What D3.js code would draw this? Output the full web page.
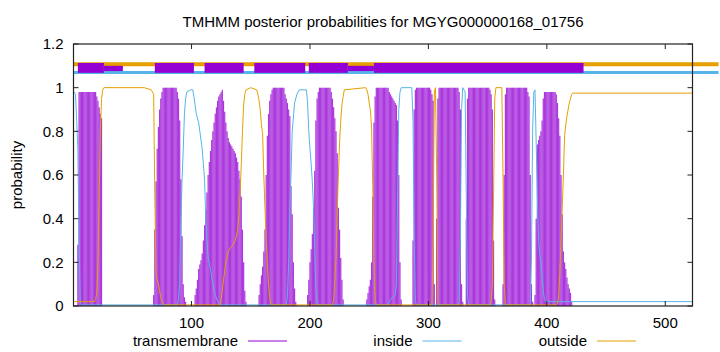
<!DOCTYPE html>
<html>
<head>
<meta charset="utf-8">
<script src="https://cdn.jsdelivr.net/npm/d3@7"></script>
<style>
body { margin: 0; background: #fff; }
text { font-family: "Liberation Sans", Arial, sans-serif; font-size: 15px; fill: #000; }
</style>
</head>
<body>
<div id="chart"></div>
<script>
var title = "TMHMM posterior probabilities for MGYG000000168_01756";
var seqLength = 523;
var xTicks = [100, 200, 300, 400, 500];
var yTicks = [0, 0.2, 0.4, 0.6, 0.8, 1, 1.2];
var seriesNames = ["transmembrane", "inside", "outside"];
var seriesColors = ["#9400d3", "#56b4e9", "#e69f00"];

// transmembrane posterior, one value per residue, starting at tmStarts[i]
var tmStarts = [4, 68, 103, 157, 198, 248, 287, 307, 332, 363, 390];
var tmProbs = [
  [.28, .98, .98, .98, .98, .98, .98, .98, .98, .98, .98, .98, .98, .98, .98, .98, .96, .94, .91, .88, .86],
  [.05, .35, .57, .72, .82, .9, .95, .98, 1, 1, 1, 1, 1, 1, 1, 1, 1, 1, 1, 1, .98, .95, .85, .58, .32, .1, .04, .02],
  [.05, .08, .12, .17, .19, .21, .24, .3, .37, .44, .52, .6, .66, .71, .76, .8, .84, .88, .91, .94, .96, .97, .98, .99,
   .94, .89, .84, .8, .77, .75, .74, .73, .72, .71, .7, .68, .66, .62, .58, .5, .35, .2, .07, .02],
  [.05, .1, .14, .18, .25, .35, .6, .78, .88, .94, .97, .99, 1, 1, 1, 1, 1, 1, 1, 1, 1, 1, .97, .95, .93, .9, .87, .55, .42, .2, .08, .02],
  [.05, .12, .2, .26, .33, .45, .62, .85, .95, .98, 1, 1, 1, 1, 1, 1, 1, 1, 1, 1, .98, .95, .91, .86, .8, .7, .45, .35, .22, .12, .03],
  [.03, .06, .09, .12, .2, .5, .84, .96, 1, 1, 1, 1, 1, 1, 1, 1, 1, 1, 1, .98, .97, .96, .95, .94, .93, .92, .85, .6, .2, .03],
  [.3, .9, .99, 1, 1, 1, 1, 1, 1, 1, 1, 1, 1, 1, 1, .99, .97, .94, .1],
  [.4, .95, 1, 1, 1, 1, 1, 1, 1, 1, 1, 1, 1, 1, 1, 1, 1, 1, 1, .98, .9, .1, .02],
  [.4, .95, 1, 1, 1, 1, 1, 1, 1, 1, 1, 1, 1, 1, 1, 1, 1, 1, 1, 1, .99, .97, .9, .3, .03],
  [.1, .6, .97, 1, 1, 1, 1, 1, 1, 1, 1, 1, 1, 1, 1, 1, 1, 1, 1, 1, 1, .98, .96, .6, .1, .02],
  [.05, .4, .74, .76, .78, .8, .85, .95, .98, .98, .98, .98, .98, .98, .98, .98, .98, .98, .97, .93, .86, .78, .6, .42, .25, .2, .17, .13, .1, .08, .06, .02]
];

// inside / outside posterior, [residue, probability]
var insideProbs = [
  [1, .98], [2, .97], [3, .85], [4, .72], [5, .3], [6, .02], [7, .005], [88, .005], [89, .03], [90, .12], [91, .38], [92, .58],
  [93, .72], [94, .88], [95, .95], [96, .98], [99, .99], [101, .99], [102, .96], [103, .92], [104, .88], [106, .84], [107, .8],
  [109, .72], [111, .58], [112, .4], [113, .3], [114, .22], [116, .17], [118, .1], [120, .05], [123, .01], [124, .005],
  [180, .005], [181, .05], [182, .2], [183, .45], [184, .6], [185, .8], [187, .93], [189, .97], [191, .99], [197, .99], [198, .93],
  [199, .8], [200, .72], [201, .65], [202, .57], [203, .45], [204, .25], [205, .08], [206, .02], [207, .005],
  [266, .005], [267, .02], [268, .03], [270, .04], [272, .05], [273, .1], [274, .5], [275, .9], [276, .98], [277, 1], [286, 1],
  [287, .85], [288, .3], [289, .02], [290, .005],
  [325, .005], [326, .02], [327, .3], [328, .9], [329, 1], [331, .98], [332, .5], [333, .05], [334, .005],
  [386, .005], [387, .2], [388, .8], [389, .98], [390, .99], [391, .75], [392, .5], [393, .3], [394, .24], [395, .2], [396, .14],
  [397, .07], [398, .03], [399, .02], [523, .02]
];
var outsideProbs = [
  [1, .02], [18, .02], [19, .03], [20, .06], [21, .2], [22, .5], [23, .8], [24, .95], [25, .99], [26, 1], [60, 1], [66, .99],
  [67, .98], [68, .97], [69, .5], [70, .15], [71, .12], [72, .1], [73, .07], [74, .04], [75, .02], [77, .005],
  [124, .005], [125, .03], [127, .12], [129, .2], [131, .25], [133, .27], [135, .28], [137, .3], [139, .35], [140, .42], [141, .52],
  [142, .65], [143, .8], [144, .92], [145, .97], [146, .99], [150, 1], [155, .99], [156, .97], [157, .94], [158, .9], [159, .83],
  [160, .79], [161, .6], [162, .45], [163, .3], [164, .2], [165, .1], [166, .04], [167, .005],
  [219, .005], [220, .03], [221, .12], [222, .22], [223, .43], [224, .6], [225, .75], [226, .85], [227, .92], [228, .96], [229, .99],
  [247, 1], [248, .99], [249, .97], [250, .93], [251, .9], [252, .82], [253, .55], [254, .2], [255, .03], [256, .005],
  [303, .005], [304, .3], [305, .98], [306, 1], [307, .6], [308, .02], [309, .005],
  [352, .005], [353, .02], [354, .1], [355, .5], [356, .95], [357, 1], [362, 1], [363, .6], [364, .1], [365, .005],
  [408, .005], [409, .01], [410, .05], [411, .15], [412, .3], [413, .45], [414, .6], [415, .78], [416, .83], [417, .87], [418, .9],
  [419, .93], [420, .95], [421, .97], [422, .975], [523, .975]
];

// predicted topology bars above the curves
var topTM = [[4, 26], [69, 102], [111, 144], [153, 196], [199, 232], [254, 431]];
var topTMThin = [[26, 42], [232, 254]];
var topEnd = 545;

var width = 720, height = 352;
var margin = {top: 44, right: 27.5, bottom: 46, left: 73.5};

var svg = d3.select("#chart").append("svg")
  .attr("width", width)
  .attr("height", height);

var x = d3.scaleLinear().domain([1, seqLength]).range([margin.left + 0.8, width - margin.right]);
var y = d3.scaleLinear().domain([0, 1.2]).range([height - margin.bottom, margin.top]);

//flatten tm data
var tmData = [];
tmStarts.forEach(function(s, i) {
  tmProbs[i].forEach(function(p, j) { tmData.push([s + j, p]); });
});

//impulses
svg.append("g").selectAll("line")
  .data(tmData)
  .enter().append("line")
  .attr("x1", function(d) { return x(d[0]); })
  .attr("x2", function(d) { return x(d[0]); })
  .attr("y1", y(0))
  .attr("y2", function(d) { return y(d[1]); })
  .attr("stroke", seriesColors[0])
  .attr("stroke-opacity", 0.78)
  .attr("stroke-width", 1.2);

var line = d3.line()
  .x(function(d) { return x(d[0]); })
  .y(function(d) { return y(d[1]); });

svg.append("path").datum(insideProbs)
  .attr("d", line)
  .attr("fill", "none")
  .attr("stroke", seriesColors[1])
  .attr("stroke-width", 1);

svg.append("path").datum(outsideProbs)
  .attr("d", line)
  .attr("fill", "none")
  .attr("stroke", seriesColors[2])
  .attr("stroke-width", 1);

//topology bars
svg.append("line")
  .attr("x1", margin.left).attr("x2", x(topEnd))
  .attr("y1", y(1.107)).attr("y2", y(1.107))
  .attr("stroke", seriesColors[2]).attr("stroke-width", 4);
svg.append("line")
  .attr("x1", margin.left).attr("x2", x(topEnd))
  .attr("y1", y(1.07)).attr("y2", y(1.07))
  .attr("stroke", seriesColors[1]).attr("stroke-width", 3);

svg.append("g").selectAll("rect")
  .data(topTM)
  .enter().append("rect")
  .attr("x", function(d) { return x(d[0]); })
  .attr("width", function(d) { return x(d[1]) - x(d[0]); })
  .attr("y", y(1.113))
  .attr("height", y(1.068) - y(1.113))
  .attr("fill", seriesColors[0]);

svg.append("g").selectAll("rect")
  .data(topTMThin)
  .enter().append("rect")
  .attr("x", function(d) { return x(d[0]); })
  .attr("width", function(d) { return x(d[1]) - x(d[0]); })
  .attr("y", y(1.1))
  .attr("height", y(1.076) - y(1.1))
  .attr("fill", seriesColors[0]);

//border
svg.append("rect")
  .attr("x", margin.left)
  .attr("y", margin.top)
  .attr("width", width - margin.left - margin.right)
  .attr("height", height - margin.top - margin.bottom)
  .attr("fill", "none")
  .attr("stroke", "#222")
  .attr("stroke-width", 1.2);

//ticks
var tickLen = 5;
var left = margin.left, right = width - margin.right;
var g = svg.append("g").attr("stroke", "#222").attr("stroke-width", 1);
xTicks.forEach(function(t) {
  g.append("line").attr("x1", x(t)).attr("x2", x(t)).attr("y1", y(0)).attr("y2", y(0) - tickLen);
  g.append("line").attr("x1", x(t)).attr("x2", x(t)).attr("y1", y(1.2)).attr("y2", y(1.2) + tickLen);
});
yTicks.forEach(function(t) {
  g.append("line").attr("x1", left).attr("x2", left + tickLen).attr("y1", y(t)).attr("y2", y(t));
  g.append("line").attr("x1", right).attr("x2", right - tickLen).attr("y1", y(t)).attr("y2", y(t));
});

svg.append("g").selectAll("text")
  .data(xTicks)
  .enter().append("text")
  .attr("x", function(d) { return x(d); })
  .attr("y", 328)
  .attr("text-anchor", "middle")
  .text(function(d) { return d; });

svg.append("g").selectAll("text")
  .data(yTicks)
  .enter().append("text")
  .attr("x", margin.left - 10)
  .attr("y", function(d) { return y(d); })
  .attr("dy", "0.35em")
  .attr("text-anchor", "end")
  .text(function(d) { return d; });

svg.append("text")
  .attr("transform", "translate(22," + ((y(0) + y(1.2)) / 2) + ") rotate(-90)")
  .attr("text-anchor", "middle")
  .text("probability");

svg.append("text")
  .attr("x", (left + right) / 2)
  .attr("y", 27)
  .attr("text-anchor", "middle")
  .text(title);

//legend
seriesNames.forEach(function(name, i) {
  var lx = 238 + i * 174.5;
  svg.append("text").attr("x", lx).attr("y", 346).attr("text-anchor", "end").text(name);
  svg.append("line")
    .attr("x1", lx + 10).attr("x2", lx + 49)
    .attr("y1", 341).attr("y2", 341)
    .attr("stroke", seriesColors[i]).attr("stroke-width", 1);
});
</script>
</body>
</html>
